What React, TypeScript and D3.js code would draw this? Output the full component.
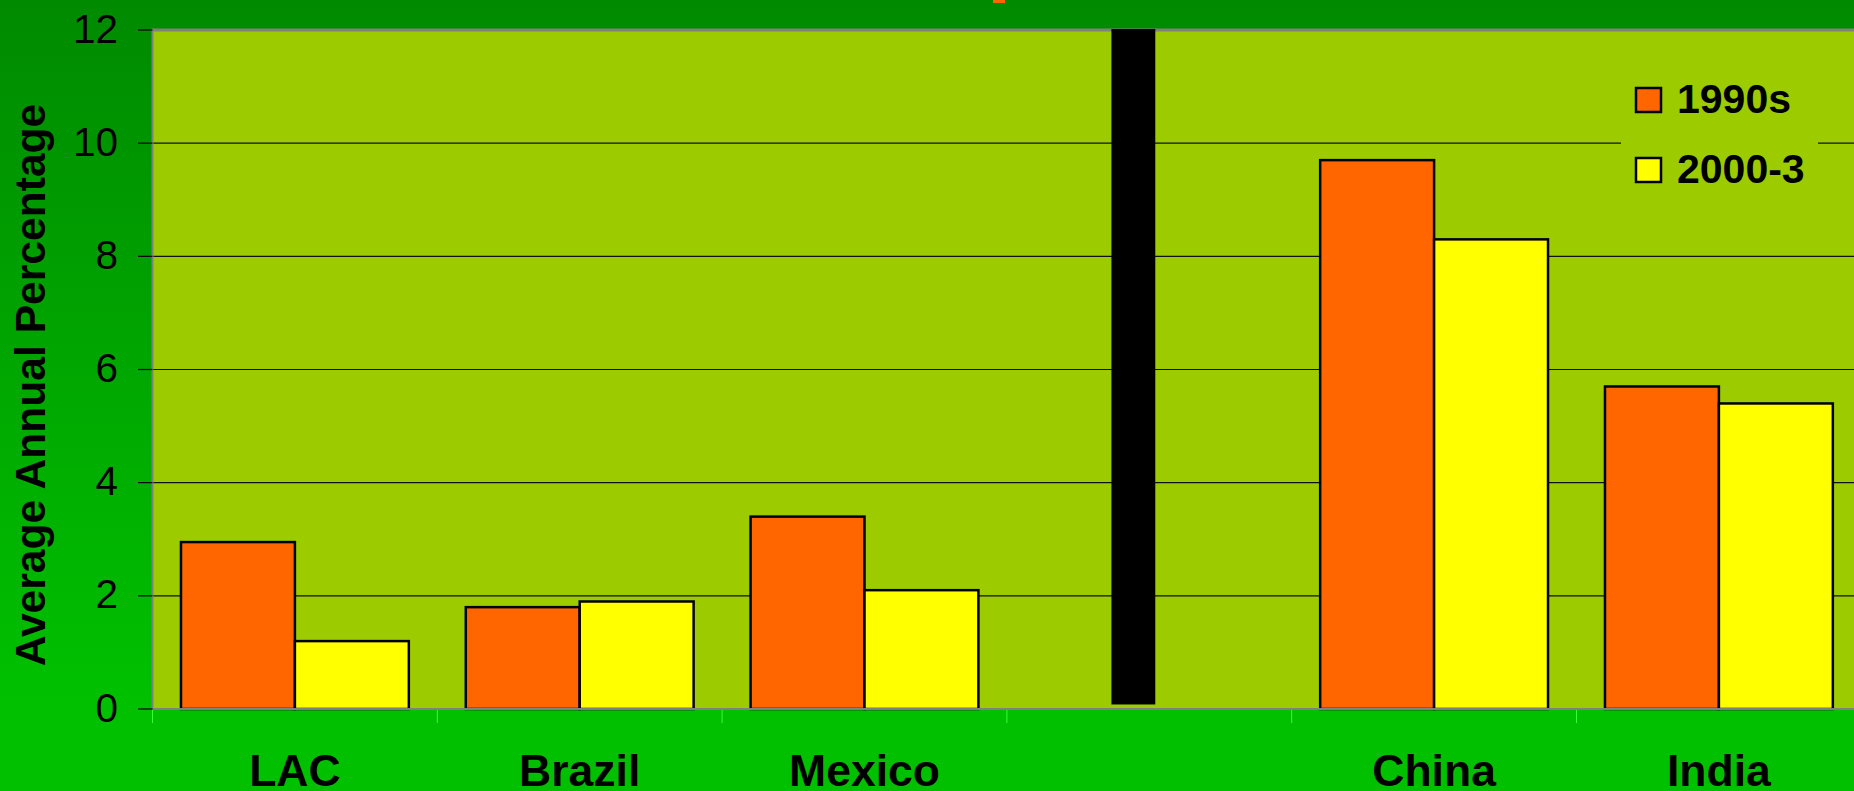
import React from "react";
import * as d3 from "d3";

const categories = ["LAC", "Brazil", "Mexico", "", "China", "India"];
const seriesNames = ["1990s", "2000-3"];
const values1990s = [2.95, 1.8, 3.4, null, 9.7, 5.7];
const values2000 = [1.2, 1.9, 2.1, null, 8.3, 5.4];
const yTicks = [0, 2, 4, 6, 8, 10, 12];
const separatorCategory = "";
const separatorRange = [0.08, 12];

const W = 1854;
const H = 791;
const colors = ["#FF6600", "#FFFF00"];

export default function App() {
  const left = 152.5;
  const bandW = 284.8;
  const x = d3.scaleBand<string>().domain(categories).range([left, left + bandW * categories.length]).paddingInner(0).paddingOuter(0);
  const y = d3.scaleLinear().domain([0, 12]).range([709, 30]);
  const inner = d3.scaleBand<string>().domain(seriesNames).range([0, x.bandwidth()]).paddingInner(0).paddingOuter(0.25);
  const series = [values1990s, values2000];
  const font = "'Liberation Sans', Arial, sans-serif";
  const plotRight = W + 10;
  const sepX0 = (x(separatorCategory) as number) + x.bandwidth() * 0.367;
  const sepW = x.bandwidth() * 0.154;

  return (
    <svg width={W} height={H} style={{ position: "absolute", left: 0, top: 0, display: "block" }} fontFamily={font}>
      <defs>
        <linearGradient id="bg" x1="0" y1="0" x2="0" y2="1">
          <stop offset="0%" stopColor="#008A00" />
          <stop offset="88%" stopColor="#00C000" />
          <stop offset="100%" stopColor="#00C000" />
        </linearGradient>
      </defs>
      <rect x={0} y={0} width={W} height={H} fill="url(#bg)" />
      {/* clipped title fragment */}
      <rect x={993} y={0} width={12} height={3} fill="#FF6600" />
      {/* plot area */}
      <rect x={left} y={y(12)} width={plotRight - left} height={y(0) - y(12)} fill="#9CCB00" />
      {/* gridlines */}
      {yTicks.filter((t) => t > 0 && t < 12).map((t) => (
        <line key={t} x1={left} x2={plotRight} y1={y(t)} y2={y(t)} stroke="#111" strokeWidth={1.2} />
      ))}
      {/* plot border */}
      <line x1={left} x2={plotRight} y1={y(12)} y2={y(12)} stroke="#808080" strokeWidth={3} />
      <line x1={left} x2={left} y1={y(12) - 1.5} y2={y(0)} stroke="#808080" strokeWidth={2} />
      {/* bars */}
      {categories.map((c, i) =>
        series.map((s, j) => {
          const v = s[i];
          if (v == null) return null;
          const bx = (x(c) as number) + (inner(seriesNames[j]) as number);
          return (
            <rect key={c + j} x={bx} y={y(v)} width={inner.bandwidth()} height={y(0) - y(v)} fill={colors[j]} stroke="#000" strokeWidth={2.5} />
          );
        })
      )}
      {/* separator bar */}
      <rect x={sepX0} y={y(separatorRange[1]) - 1} width={sepW} height={y(separatorRange[0]) - y(separatorRange[1]) + 1} fill="#000" />
      {/* x axis line */}
      <line x1={left} x2={plotRight} y1={y(0)} y2={y(0)} stroke="#808080" strokeWidth={2} />
      {/* x ticks */}
      {categories.map((c, i) => (
        <line key={"xt" + i} x1={x(c) as number} x2={x(c) as number} y1={y(0) + 1} y2={y(0) + 14} stroke="#33FF33" strokeWidth={1} />
      ))}
      {/* y ticks */}
      {yTicks.map((t) => (
        <g key={"yt" + t}>
          <line x1={138} x2={left} y1={y(t)} y2={y(t)} stroke="#000" strokeWidth={1.2} />
          <text x={118} y={y(t) + 12.5} textAnchor="end" fontSize={40.5} fill="#000">{t}</text>
        </g>
      ))}
      {/* category labels */}
      {categories.map((c, i) => (
        <text key={"xl" + i} x={(x(c) as number) + x.bandwidth() / 2} y={786} textAnchor="middle" fontSize={44.5} fontWeight="bold" fill="#000">{c}</text>
      ))}
      {/* y title */}
      <text transform="translate(45,385) rotate(-90)" textAnchor="middle" fontSize={42.6} fontWeight="bold" fill="#000">Average Annual Percentage</text>
      {/* legend */}
      <rect x={1621} y={y(10) - 6} width={197} height={12} fill="#9CCB00" />
      {seriesNames.map((n, j) => (
        <g key={n} transform={`translate(1636, ${88 + j * 70})`}>
          <rect x={0} y={0} width={25} height={24} fill={colors[j]} stroke="#000" strokeWidth={2.5} />
          <text x={41} y={24.5} fontSize={41} fontWeight="bold" fill="#000">{n}</text>
        </g>
      ))}
    </svg>
  );
}
